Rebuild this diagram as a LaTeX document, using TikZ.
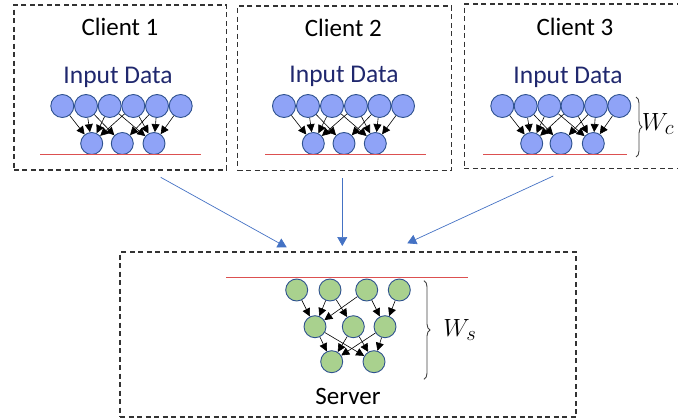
\documentclass[tikz,border=0pt]{standalone}
\usepackage{fontspec}
\setmainfont{Carlito}
\usetikzlibrary{arrows.meta,decorations.pathreplacing}
\definecolor{nodeblue}{RGB}{143,163,247}
\definecolor{nodegreen}{RGB}{169,209,142}
\definecolor{rim}{RGB}{47,82,143}
\definecolor{navy}{RGB}{32,40,110}
\definecolor{linkblue}{RGB}{68,114,196}
\definecolor{redline}{RGB}{220,80,80}
\tikzset{
  frame/.style={draw=black!80, dash pattern=on 5pt off 3.5pt, line width=1.5pt, minimum width=#1, inner sep=0pt},
  bneuron/.style={circle, draw=rim, fill=nodeblue, line width=0.9pt, minimum size=#1, inner sep=0pt},
  bneuron/.default=23pt,
  gneuron/.style={circle, draw=rim, fill=nodegreen, line width=0.9pt, minimum size=22pt, inner sep=0pt},
  wire/.style={black, line width=0.6pt, -{Triangle[length=8pt,width=8pt]}},
  feed/.style={linkblue, line width=0.7pt, -{Triangle[length=9pt,width=10pt]}},
  ttl/.style={font=\fontsize{25}{28}\selectfont},
  itl/.style={font=\fontsize{25.5}{28}\selectfont, text=navy},
  baseline/.style={redline, line width=0.8pt},
  wbrace/.style={decorate, decoration={brace, amplitude=6pt}, draw=black!75, line width=0.9pt},
}
\begin{document}
\begin{tikzpicture}[x=1pt,y=-1pt]
\useasboundingbox (0,0) rectangle (678,420);
% frames
\node[frame=212.7pt, minimum height=165pt] (c1) at (120.3,87.5) {};
\node[frame=214.2pt, minimum height=164.5pt] (c2) at (344.6,88.2) {};
\node[frame=222pt, minimum height=164.3pt] (c3) at (575.3,86.1) {};
\node[frame=456pt, minimum height=165pt] (srv) at (348,334.5) {};
% titles
\node[ttl] (t1) at (120,27) {Client 1};
\node[ttl] (t2) at (343.3,28) {Client 2};
\node[ttl] (t3) at (575,27) {Client 3};
\node[ttl] (ts) at (348,396) {Server};
\node[itl] (d1) at (118,77) {Input Data};
\node[itl] (d2) at (344,76) {Input Data};
\node[itl] (d3) at (568,77) {Input Data};
% client networks
\foreach \c/\xa/\xb/\xc/\xd/\xe/\xf/\oa/\ob/\oc/\la/\lb in
  {1/62.3/86/109.7/133.3/157/180.7/91.7/122.3/154/40/200.7,
   2/284/308/332/356/379.5/403/313.3/344/375.3/265/426,
   3/502.3/525.7/549.3/572.5/596/619.3/531.7/561/593.3/483/626.5}{
  \node[bneuron] (c\c i1) at (\xa,106) {};
  \node[bneuron] (c\c i2) at (\xb,106) {};
  \node[bneuron] (c\c i3) at (\xc,106) {};
  \node[bneuron] (c\c i4) at (\xd,106) {};
  \node[bneuron] (c\c i5) at (\xe,106) {};
  \node[bneuron] (c\c i6) at (\xf,106) {};
  \node[bneuron=22pt] (c\c o1) at (\oa,143.5) {};
  \node[bneuron=22pt] (c\c o2) at (\ob,143.5) {};
  \node[bneuron=22pt] (c\c o3) at (\oc,143.5) {};
  \foreach \i/\o in {1/1,2/1,3/1,4/1,2/2,5/2,3/3,4/3,5/3,6/3}
    \draw[wire] (c\c i\i) -- (c\c o\o);
  \coordinate (c\c la) at (\la,154.3);
  \coordinate (c\c lb) at (\lb,154.3);
  \draw[baseline] (c\c la) -- (c\c lb);
}
% client 3 brace
\coordinate (bc1) at (636,97);
\coordinate (bc2) at (636,157);
\draw[wbrace] (bc1) -- (bc2);
\node[font=\fontsize{28}{30}\selectfont] (wc) at (658,124) {$W_c$};
% server network
\coordinate (sla) at (226,277.3);
\coordinate (slb) at (467.7,277.3);
\draw[baseline] (sla) -- (slb);
\node[gneuron] (s1) at (296.7,290) {};
\node[gneuron] (s2) at (330,290) {};
\node[gneuron] (s3) at (366.7,290) {};
\node[gneuron] (s4) at (399.3,290) {};
\node[gneuron] (m1) at (315,326.7) {};
\node[gneuron] (m2) at (353.3,326.7) {};
\node[gneuron] (m3) at (385,326.7) {};
\node[gneuron] (b1) at (331.7,361.7) {};
\node[gneuron] (b2) at (374,361.7) {};
\foreach \a/\b in {s1/m1,s2/m1,s2/m2,s3/m1,s3/m3,s4/m3,m1/b1,m1/b2,m2/b1,m2/b2,m3/b1,m3/b2}
  \draw[wire] (\a) -- (\b);
\coordinate (bs1) at (424,280.7);
\coordinate (bs2) at (424,379.3);
\draw[wbrace] (bs1) -- (bs2);
\node[font=\fontsize{28}{30}\selectfont] (ws) at (460,330) {$W_s$};
% uploads
\coordinate (u1) at (160.7,177.3);
\coordinate (u2) at (342.3,178.3);
\coordinate (u3) at (553.3,176);
\coordinate (v1) at (286.7,247.3);
\coordinate (v2) at (342.3,246);
\coordinate (v3) at (407.3,243.3);
\draw[feed] (u1) -- (v1);
\draw[feed] (u2) -- (v2);
\draw[feed] (u3) -- (v3);
\end{tikzpicture}
\end{document}
